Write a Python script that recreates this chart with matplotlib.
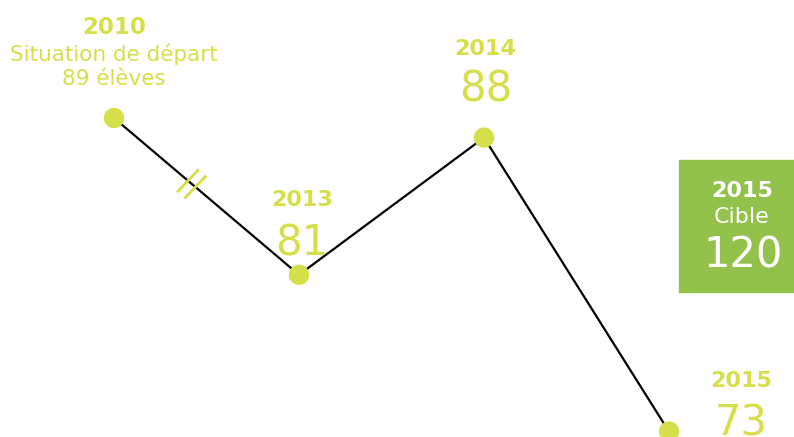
import matplotlib.pyplot as plt

plt.rcParams['font.family'] = ['DejaVu Sans']

years = ['2010', '2013', '2014', '2015']
eleves = [89, 81, 88, 73]
cible_annee = '2015'
cible = 120

jaune = '#d4df4a'
vert = '#92c24b'

fig = plt.figure(figsize=(7.94, 4.37), dpi=100)
ax = fig.add_axes([0, 0, 1, 1])
ax.set_axis_off()

xs = list(range(len(eleves)))
ax.plot(xs, eleves, color='black', lw=1.6, zorder=1)
ax.scatter(xs, eleves, s=215, color=jaune, zorder=2, edgecolors='none')

# echelle : ~185 px par annee, ~19.6 px par eleve
ax.set_xlim(-114 / 185, (794 - 114) / 185)
ax.set_ylim(89 - (437 - 118) / 19.6, 89 + 118 / 19.6)

# coupure "//" sur le premier segment
for t in (0.4, 0.44):
    cx = xs[0] + t * (xs[1] - xs[0])
    cy = eleves[0] + t * (eleves[1] - eleves[0])
    ax.plot([cx - 11 / 185, cx + 11 / 185], [cy - 11.5 / 19.6, cy + 11.5 / 19.6],
            color=jaune, lw=2, zorder=1.5, solid_capstyle='butt')

def txt(i, s, dx, dy, size, bold=False):
    # dx, dy en pixels par rapport au point
    ax.annotate(s, (xs[i], eleves[i]), xytext=(dx * 0.72, dy * 0.72),
                textcoords='offset points', ha='center', va='baseline',
                color=jaune, fontsize=size, fontweight='bold' if bold else 'normal')

txt(0, years[0], 0, 84, 16.5, True)
txt(0, 'Situation de départ', 0, 57, 15.5)
txt(0, f'{eleves[0]} élèves', 0, 33, 15.5)

txt(1, years[1], 3, 69, 16, True)
txt(1, str(eleves[1]), 3, 19, 30)

txt(2, years[2], 1, 83, 16, True)
txt(2, str(eleves[2]), 2, 36, 30)

txt(3, years[3], 72, 45, 16, True)
txt(3, str(eleves[3]), 72, -4, 30)

# encadre cible
ax.add_patch(plt.Rectangle((679 / 794, 1 - 292 / 437), 115 / 794, 132 / 437,
                           transform=ax.transAxes, color=vert, zorder=0))
fig.text(742 / 794, 1 - 197 / 437, cible_annee, ha='center', va='baseline',
         color='white', fontsize=16, fontweight='bold')
fig.text(742 / 794, 1 - 223 / 437, 'Cible', ha='center', va='baseline',
         color='white', fontsize=16)
fig.text(743 / 794, 1 - 267 / 437, str(cible), ha='center', va='baseline',
         color='white', fontsize=30)

fig.savefig('out.png', dpi=100)
